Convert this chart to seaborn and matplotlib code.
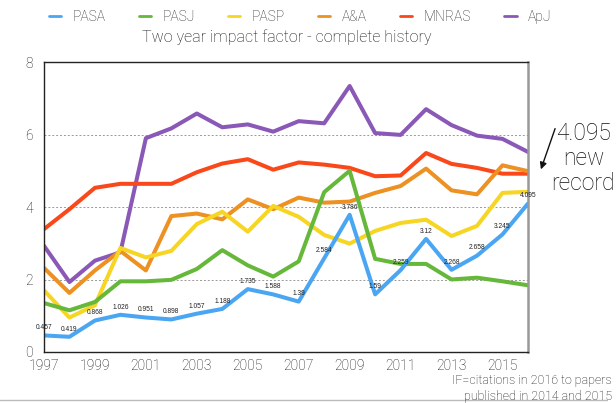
import numpy as np
import pandas as pd
import matplotlib
matplotlib.use("Agg")
import matplotlib.pyplot as plt
import seaborn as sns

years = list(range(1997, 2017))

pasa = [0.457, 0.419, 0.868, 1.026, 0.951, 0.898, 1.057, 1.188, 1.735, 1.588,
        1.39, 2.584, 3.786, 1.59, 2.259, 3.12, 2.268, 2.658, 3.245, 4.095]
pasj = [1.35, 1.15, 1.38, 1.95, 1.95, 1.99, 2.29, 2.81, 2.39, 2.08,
        2.5, 4.41, 5.0, 2.57, 2.43, 2.43, 2.0, 2.05, 1.95, 1.84]
pasp = [1.7, 0.95, 1.29, 2.87, 2.61, 2.79, 3.53, 3.87, 3.32, 4.03,
        3.73, 3.23, 2.99, 3.34, 3.56, 3.65, 3.2, 3.48, 4.39, 4.42]
aa = [2.32, 1.63, 2.25, 2.79, 2.25, 3.75, 3.82, 3.66, 4.21, 3.94,
      4.26, 4.12, 4.15, 4.39, 4.58, 5.06, 4.46, 4.35, 5.15, 4.99]
mnras = [3.39, 3.94, 4.53, 4.64, 4.64, 4.64, 4.96, 5.2, 5.32, 5.03,
         5.23, 5.17, 5.08, 4.85, 4.87, 5.49, 5.19, 5.08, 4.92, 4.92]
apj = [2.93, 1.93, 2.52, 2.75, 5.9, 6.17, 6.58, 6.2, 6.28, 6.08,
       6.37, 6.31, 7.34, 6.04, 5.99, 6.7, 6.26, 5.97, 5.88, 5.52]

journals = ["PASA", "PASJ", "PASP", "A&A", "MNRAS", "ApJ"]
colores = ["#4aa6f2", "#66b83a", "#f7d523", "#ec9122", "#f9481a", "#8a58b6"]
series = [pasa, pasj, pasp, aa, mnras, apj]

# tabla larga para seaborn
df = pd.DataFrame({
    "year": years * len(journals),
    "IF": sum(series, []),
    "journal": np.repeat(journals, len(years)),
})

sns.set_style("white")
plt.rcParams["font.family"] = ["Roboto", "DejaVu Sans"]
plt.rcParams["font.weight"] = "light"

fig = plt.figure(figsize=(6.16, 4.03), dpi=100)
ax = fig.add_axes([0.0714, 0.1266, 0.7857, 0.7194])

# dibujar en orden inverso para que PASA quede encima
for nombre, color in reversed(list(zip(journals, colores))):
    sns.lineplot(data=df[df["journal"] == nombre], x="year", y="IF",
                 color=color, linewidth=2.9, ax=ax, label=nombre)

# etiquetas de PASA
for x, v in zip(years, pasa):
    ax.annotate(f"{v:g}", (x, v), xytext=(0, 3), textcoords="offset points",
                ha="center", va="bottom", fontsize=4.8, color="#222222",
                fontweight="normal", family=["Liberation Sans"])

ax.set_xlim(1997, 2016)
ax.set_ylim(0, 8)
ax.set_xticks(range(1997, 2016, 2))
ax.set_yticks([0, 2, 4, 6, 8])
ax.tick_params(axis="both", length=0, labelsize=10, colors="#111111")
ax.tick_params(axis="x", pad=5)
ax.tick_params(axis="y", pad=8)
ax.set_xlabel("")
ax.set_ylabel("")
for y in [2, 4, 6]:
    ax.axhline(y, color="#999999", linestyle=(0, (2, 2)), linewidth=0.7, zorder=0)

for lado in ["left", "bottom", "top"]:
    ax.spines[lado].set_color("#222222")
    ax.spines[lado].set_linewidth(1.0)
ax.spines["right"].set_color("#999999")
ax.spines["right"].set_linewidth(1.8)

# leyenda arriba
handles, labels = ax.get_legend_handles_labels()
orden = [labels.index(n) for n in journals]
leg = fig.legend([handles[i] for i in orden], journals, loc="center",
                 bbox_to_anchor=(0.487, 0.957), ncol=6, frameon=False,
                 fontsize=10, handlelength=0.9, columnspacing=2.4,
                 handletextpad=0.8)
for linea in leg.get_lines():
    linea.set_linewidth(2.0)
ax.get_legend().remove()

fig.text(0.466, 0.907, "Two year impact factor - complete history",
         ha="center", va="center", fontsize=11.5, color="#111111")

# nota del récord
fig.text(0.947, 0.607, "4.095\nnew\nrecord", ha="center", va="center",
         fontsize=16.5, linespacing=1.1, color="#111111")
fig.add_artist(plt.Annotation("", xy=(540 / 616, 1 - 172 / 403),
                              xycoords="figure fraction",
                              xytext=(556 / 616, 1 - 126 / 403),
                              textcoords="figure fraction",
                              arrowprops=dict(arrowstyle="-|>", color="#111111",
                                              lw=1.0, mutation_scale=10)))

fig.text(0.993, 0.035, "IF=citations in 2016 to papers\npublished in 2014 and 2015",
         ha="right", va="center", fontsize=9, linespacing=1.3, color="#111111")
fig.add_artist(plt.Line2D([0, 0.985], [0.008, 0.008], color="#bbbbbb", lw=1.0))

fig.savefig("out.png", dpi=100)
plt.close(fig)
